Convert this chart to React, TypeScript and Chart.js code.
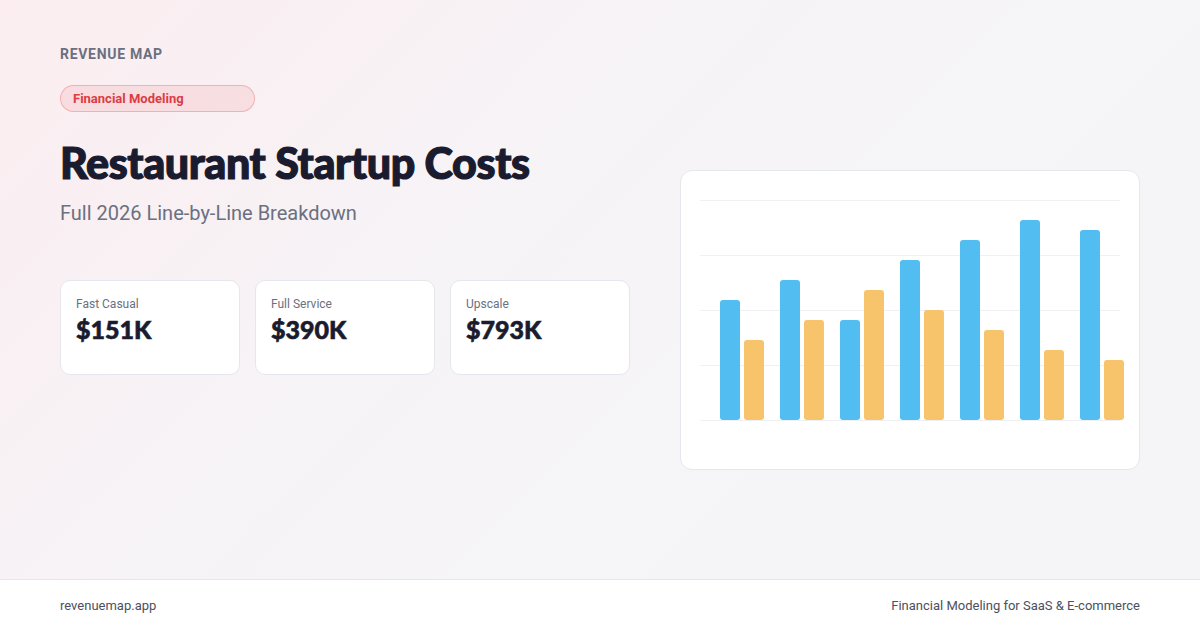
import React, { useEffect, useRef } from 'react';
import { Chart, registerables } from 'chart.js';

Chart.register(...registerables);

const categories = ['1', '2', '3', '4', '5', '6', '7'];
const blueValues = [120, 140, 100, 160, 180, 200, 190];
const orangeValues = [80, 100, 130, 110, 90, 70, 60];
const gridValues = [0, 55, 110, 165, 220];

const stats = [
  { label: 'Fast Casual', value: '$151K' },
  { label: 'Full Service', value: '$390K' },
  { label: 'Upscale', value: '$793K' },
];

// horizontal guide lines, drawn under the bars and a little left of the plot
const gridPlugin = {
  id: 'softGrid',
  beforeDatasetsDraw(chart: any) {
    const { ctx, chartArea, scales } = chart;
    const shift = 12;
    ctx.save();
    ctx.strokeStyle = '#eef0f4';
    ctx.lineWidth = 1;
    gridValues.forEach(v => {
      const y = Math.round(scales.y.getPixelForValue(v)) + 0.5;
      ctx.beginPath();
      ctx.moveTo(chartArea.left - shift, y);
      ctx.lineTo(chartArea.right - shift, y);
      ctx.stroke();
    });
    ctx.restore();
  },
};

const BarCard: React.FC = () => {
  const canvasRef = useRef<HTMLCanvasElement>(null);

  useEffect(() => {
    if (!canvasRef.current) return;
    const chart = new Chart(canvasRef.current, {
      type: 'bar',
      data: {
        labels: categories,
        datasets: [
          {
            data: blueValues,
            backgroundColor: '#52bdf0',
            borderRadius: 3,
            borderSkipped: false,
            barPercentage: 0.833,
            categoryPercentage: 0.8,
          },
          {
            data: orangeValues,
            backgroundColor: '#f8c46b',
            borderRadius: 3,
            borderSkipped: false,
            barPercentage: 0.833,
            categoryPercentage: 0.8,
          },
        ],
      },
      options: {
        animation: false,
        responsive: true,
        maintainAspectRatio: false,
        layout: { padding: { left: 31, top: 29, right: 7, bottom: 49 } },
        plugins: { legend: { display: false }, tooltip: { enabled: false } },
        scales: {
          x: { display: false },
          y: { display: false, min: 0, max: 220 },
        },
      },
      plugins: [gridPlugin],
    });
    return () => {
      chart.destroy();
    };
  }, []);

  return (
    <div
      style={{
        position: 'absolute',
        left: 680,
        top: 170,
        width: 460,
        height: 300,
        boxSizing: 'border-box',
        background: '#ffffff',
        border: '1px solid #e6e7ec',
        borderRadius: 12,
      }}
    >
      <div style={{ position: 'absolute', inset: 0 }}>
        <canvas ref={canvasRef} />
      </div>
    </div>
  );
};

const App: React.FC = () => {
  const sans = 'Roboto, "Noto Sans", sans-serif';
  return (
    <div
      style={{
        position: 'fixed',
        left: 0,
        top: 0,
        width: 1200,
        height: 630,
        overflow: 'hidden',
        fontFamily: sans,
        background: 'linear-gradient(135deg, #fbedf0 0%, #f7f3f6 35%, #f5f5f8 70%, #f5f5f8 100%)',
      }}
    >
      <div
        style={{
          position: 'absolute',
          left: 60,
          top: 46,
          fontSize: 14,
          fontWeight: 700,
          letterSpacing: 0.7,
          color: '#6b7080',
        }}
      >
        REVENUE MAP
      </div>
      <div
        style={{
          position: 'absolute',
          left: 60,
          top: 85,
          width: 195,
          height: 27,
          boxSizing: 'border-box',
          borderRadius: 14,
          background: 'rgba(239, 68, 68, 0.1)',
          border: '1px solid rgba(239, 68, 68, 0.3)',
          color: '#dc3c44',
          fontSize: 13,
          fontWeight: 700,
          lineHeight: '25px',
          paddingLeft: 12,
        }}
      >
        Financial Modeling
      </div>
      <div
        style={{
          position: 'absolute',
          left: 60,
          top: 137,
          fontFamily: 'Lato, sans-serif',
          fontWeight: 900,
          fontSize: 43,
          letterSpacing: -0.4,
          color: '#1a1b2e',
          WebkitTextStroke: '1.2px #1a1b2e',
          whiteSpace: 'nowrap',
        }}
      >
        Restaurant Startup Costs
      </div>
      <div
        style={{
          position: 'absolute',
          left: 60,
          top: 201,
          fontSize: 20,
          color: '#6b7080',
          whiteSpace: 'nowrap',
        }}
      >
        Full 2026 Line-by-Line Breakdown
      </div>
      {stats.map((s, i) => (
        <div
          key={s.label}
          style={{
            position: 'absolute',
            left: 60 + i * 195,
            top: 280,
            width: 180,
            height: 95,
            boxSizing: 'border-box',
            background: '#ffffff',
            border: '1px solid #e6e7ec',
            borderRadius: 10,
            padding: '16px 15px',
          }}
        >
          <div style={{ fontSize: 12, color: '#6b7080', lineHeight: '14px' }}>{s.label}</div>
          <div
            style={{
              fontFamily: 'Lato, sans-serif',
              fontSize: 25,
              fontWeight: 900,
              color: '#1a1b2e',
              WebkitTextStroke: '0.6px #1a1b2e',
              lineHeight: '32px',
              marginTop: 2,
            }}
          >
            {s.value}
          </div>
        </div>
      ))}
      <BarCard />
      <div
        style={{
          position: 'absolute',
          left: 0,
          top: 579,
          width: 1200,
          height: 51,
          background: '#ffffff',
          borderTop: '1px solid #e6e7ec',
          fontSize: 13,
          color: '#4b5060',
        }}
      >
        <div style={{ position: 'absolute', left: 60, top: 18 }}>revenuemap.app</div>
        <div style={{ position: 'absolute', right: 60, top: 18 }}>Financial Modeling for SaaS &amp; E-commerce</div>
      </div>
    </div>
  );
};

export default App;
